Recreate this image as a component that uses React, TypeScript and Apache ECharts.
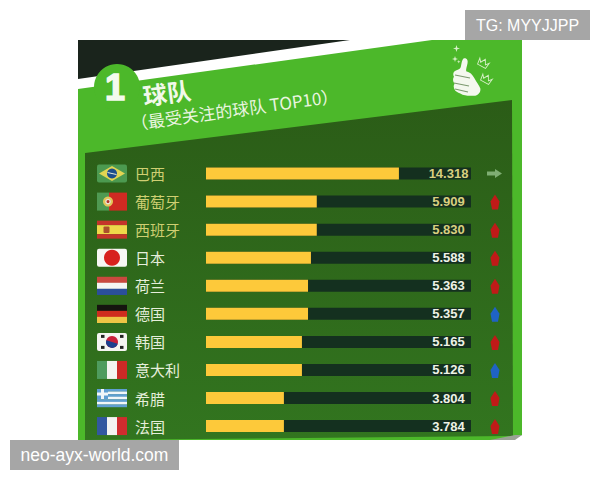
import React, { useEffect, useRef } from "react";
import * as echarts from "echarts";

const teams = ["巴西", "葡萄牙", "西班牙", "日本", "荷兰", "德国", "韩国", "意大利", "希腊", "法国"];
const scores = ["14.318", "5.909", "5.830", "5.588", "5.363", "5.357", "5.165", "5.126", "3.804", "3.784"];
// Drawn length of each yellow bar, as a share of its track (the picture's bars are not proportional to the scores)
const barShares = [72.8, 41.8, 41.8, 39.6, 38.5, 38.5, 36.2, 36.2, 29.4, 29.4];
const trackShares = [100, 100, 100, 100, 100, 100, 100, 100, 100, 100];
const trends = ["flat", "up", "up", "up", "up", "down", "up", "down", "up", "up"];
const flags = ["br", "pt", "es", "jp", "nl", "de", "kr", "it", "gr", "fr"];
const titleText = "球队";
const subtitleText = "（最受关注的球队 TOP10）";
const rankText = "1";
const watermarkTop = "TG: MYYJJPP";
const watermarkBottom = "neo-ayx-world.com";

const CJK = '"Noto Sans CJK SC", sans-serif';
const LATIN = '"Liberation Sans", Arial, sans-serif';
const W = 30;
const H = 18;

const rect = (x: number, y: number, width: number, height: number, fill: string, r = 0) => ({
  type: "rect",
  shape: { x, y, width, height, r },
  style: { fill },
});
const vBands = (c: string[], w: number[]) => {
  let x = 0;
  return w.map((bw, i) => {
    const e = rect(x, 0, bw, H, c[i]);
    x += bw;
    return e;
  });
};
const hBands = (c: string[]) => c.map((col, i) => rect(0, (i * H) / c.length, W, H / c.length + 0.2, col));
const circle = (cx: number, cy: number, r: number, fill: string) => ({
  type: "circle",
  shape: { cx, cy, r },
  style: { fill },
});

function flagParts(id: string): any[] {
  switch (id) {
    case "br":
      return [
        rect(0, 0, W, H, "#4c9a50", 2),
        { type: "polygon", shape: { points: [[2, 9], [15, 1.5], [28, 9], [15, 16.5]] }, style: { fill: "#e2d552" } },
        circle(15, 9, 5, "#1d4f8c"),
        { type: "line", shape: { x1: 10.5, y1: 8, x2: 19.5, y2: 10 }, style: { stroke: "#e6ecd8", lineWidth: 1 } },
      ];
    case "pt":
      return [
        ...vBands(["#4f9a52", "#cf2a22"], [12, 18]),
        circle(11, 9, 5, "#e2c65a"),
        circle(11, 9, 2.8, "#e8e4d8"),
        circle(11, 9, 1.5, "#b8362a"),
      ];
    case "es":
      return [
        rect(0, 0, W, 4.5, "#c4342a"),
        rect(0, 4.5, W, 9, "#eed84a"),
        rect(0, 13.5, W, 4.5, "#c4342a"),
        rect(6.5, 5.8, 6, 6.5, "#a9502c", 1),
      ];
    case "jp":
      return [rect(0, 0, W, H, "#f7f7f4", 2), circle(15, 9, 8, "#d7211e")];
    case "nl":
      return hBands(["#c9493f", "#f5f5f2", "#2b4f9a"]);
    case "de":
      return hBands(["#15150f", "#cf2c1e", "#eec545"]);
    case "kr":
      return [
        rect(0, 0, W, H, "#f5f5f2", 2),
        circle(15, 9, 6, "#c9203a"),
        { type: "sector", shape: { cx: 15, cy: 9, r: 6, startAngle: 0.3, endAngle: 3.44 }, style: { fill: "#1c3f8f" } },
        rect(4, 2, 3.5, 3, "#222"),
        rect(23, 2, 3.5, 3, "#222"),
        rect(4, 13, 3.5, 3, "#222"),
        rect(23, 13, 3.5, 3, "#222"),
      ];
    case "it":
      return vBands(["#4f9c5e", "#f4f4f0", "#cc2a26"], [10, 10, 10]);
    case "gr":
      return [
        ...hBands(["#5f9fd2", "#f2f6f8", "#5f9fd2", "#f2f6f8", "#5f9fd2", "#f2f6f8", "#5f9fd2"]),
        rect(0, 0, 11, 10, "#5f9fd2"),
        rect(4, 0, 3, 10, "#f2f6f8"),
        rect(0, 3.5, 11, 3, "#f2f6f8"),
      ];
    default:
      return vBands(["#32589f", "#f3f3f1", "#cf2c2e"], [10, 10, 10]);
  }
}

const thumbPath =
  "M40 2 C48 -2 56 4 53 14 C51 22 48 28 49 34 C60 36 68 42 74 52 C80 62 88 70 92 78 C94 88 84 98 70 97 C58 97 48 96 38 94 C28 90 22 88 16 84 C10 76 10 70 14 66 C8 60 8 52 12 48 C8 42 10 34 18 32 C26 30 32 28 33 22 C35 14 36 6 40 2 Z";
const crownPath = "M0 3 L3 7 L6 1 L9 7 L12 3 L11 11 L1 11 Z";
const sparklePath = "M5 0 L6.2 3.8 L10 5 L6.2 6.2 L5 10 L3.8 6.2 L0 5 L3.8 3.8 Z";
echarts.graphic.registerShape("thumbShape", echarts.graphic.extendPath(thumbPath as any, {}) as any);
echarts.graphic.registerShape("crownShape", echarts.graphic.extendPath(crownPath as any, {}) as any);
echarts.graphic.registerShape("sparkleShape", echarts.graphic.extendPath(sparklePath as any, {}) as any);

function buildOption(): any {
  const sparkle = (x: number, y: number, s: number) => ({
    type: "sparkleShape", x, y, scaleX: s, scaleY: s, z: -5, style: { fill: "#d8f0c8" },
  });
  const crown = (x: number, y: number, rot: number) => ({
    type: "crownShape", x, y, scaleX: 0.9, scaleY: 0.8, rotation: rot, z: -5,
    style: { fill: "none", stroke: "#d8f0c8", lineWidth: 1 },
  });
  const fingerLine = (x1: number, y1: number, x2: number, y2: number) => ({
    type: "line", z: -4, shape: { x1, y1, x2, y2 }, style: { stroke: "#7d9a70", lineWidth: 1.2 },
  });
  return {
    animation: false,
    backgroundColor: "#ffffff",
    graphic: {
      elements: [
        { type: "polygon", z: -10, shape: { points: [[78, 40], [350, 40], [78, 79]] }, style: { fill: "#1a241c" } },
        {
          type: "polygon", z: -9,
          shape: { points: [[78, 89], [432, 40], [522, 40], [522, 435], [512, 440], [78, 440]] },
          style: { fill: "#4cb82a" },
        },
        { type: "circle", z: -8, shape: { cx: 117, cy: 87, r: 23 }, style: { fill: "#4cb82a" } },
        {
          type: "polygon", z: -7,
          shape: { points: [[85, 153], [512, 100], [513, 436], [85, 440]] },
          style: {
            fill: {
              type: "linear", x: 0, y: 0, x2: 0, y2: 1,
              colorStops: [{ offset: 0, color: "#2b5c17" }, { offset: 1, color: "#32751f" }],
            },
          },
        },
        { type: "polygon", z: -6, shape: { points: [[490, 440], [515, 435], [522, 435], [515, 440]] }, style: { fill: "#9aa295" } },
        {
          type: "text", z: -3, x: 115, y: 87,
          style: {
            text: rankText, fill: "#f4faee", font: `bold 36px ${LATIN}`, align: "center", verticalAlign: "middle",
            stroke: "#f4faee", lineWidth: 1.5,
          },
        },
        {
          type: "text", z: -3, x: 143, y: 95, rotation: 0.13,
          style: { text: titleText, fill: "#f2f8ea", font: `bold 24px ${CJK}`, align: "left", verticalAlign: "middle" },
        },
        {
          type: "text", z: -3, x: 131, y: 123, rotation: 0.135,
          style: { text: subtitleText, fill: "#eaf5e0", font: `17px ${CJK}`, align: "left", verticalAlign: "middle" },
        },
        { type: "thumbShape", x: 450, y: 58, scaleX: 0.33, scaleY: 0.39, z: -5, style: { fill: "#f4f8ee" } },
        fingerLine(455, 75, 470, 78),
        fingerLine(454, 83, 469, 86),
        fingerLine(455, 89, 468, 92),
        sparkle(452, 56, 0.6),
        sparkle(453, 45, 0.7),
        sparkle(457, 60, 0.35),
        crown(481, 56, -0.5),
        crown(484, 72, -0.5),
        { type: "rect", z: 100, shape: { x: 465, y: 10, width: 125, height: 30 }, style: { fill: "#a6a6a6" } },
        {
          type: "text", z: 101, x: 527.5, y: 25,
          style: { text: watermarkTop, fill: "#ffffff", font: `16px ${LATIN}`, align: "center", verticalAlign: "middle" },
        },
        { type: "rect", z: 100, shape: { x: 10, y: 440, width: 169, height: 30 }, style: { fill: "#a6a6a6" } },
        {
          type: "text", z: 101, x: 94.5, y: 455,
          style: { text: watermarkBottom, fill: "#ffffff", font: `17.5px ${LATIN}`, align: "center", verticalAlign: "middle" },
        },
      ],
    },
    grid: { left: 206, top: 159.5, width: 265, height: 280.6, containLabel: false },
    xAxis: { type: "value", min: 0, max: 100, show: false },
    yAxis: {
      type: "category",
      inverse: true,
      data: teams,
      axisLine: { show: false },
      axisTick: { show: false },
      splitLine: { show: false },
      axisLabel: {
        margin: 71,
        align: "left",
        fontSize: 15,
        fontFamily: CJK,
        padding: [0, 0, 2, 0],
        color: (_: string, i: number) => (i < 3 ? "#cfcf72" : "#e6eedb"),
      },
    },
    series: [
      {
        type: "bar",
        data: trackShares.map((v, i) => ({
          value: v,
          label: { color: i < 3 ? "#d8cf7f" : "#eef2e6" },
        })),
        barWidth: 12,
        barGap: "-100%",
        silent: true,
        itemStyle: { color: "#14301f" },
        label: {
          show: true,
          position: [242.5, "50%"],
          align: "center",
          verticalAlign: "middle",
          fontFamily: LATIN,
          fontSize: 13,
          fontWeight: "bold",
          formatter: (p: any) => scores[p.dataIndex],
        },
      },
      {
        type: "bar",
        data: barShares,
        barWidth: 12,
        barGap: "-100%",
        silent: true,
        itemStyle: { color: "#fdc93a" },
      },
      {
        type: "custom",
        clip: false,
        silent: true,
        encode: { x: 0, y: 1 },
        data: flags.map((_, i) => [0, i]),
        z: 3,
        renderItem: (_: any, api: any) => {
          const i = api.value(1);
          const c = api.coord([0, i]);
          return {
            type: "group",
            x: c[0] - 109,
            y: c[1] - H / 2,
            children: flagParts(flags[i]),
          };
        },
      },
      {
        type: "custom",
        clip: false,
        silent: true,
        encode: { x: 0, y: 1 },
        data: trends.map((_, i) => [100, i]),
        z: 3,
        renderItem: (_: any, api: any) => {
          const i = api.value(1);
          const c = api.coord([100, i]);
          const t = trends[i];
          if (t === "flat") {
            return {
              type: "polygon",
              x: c[0] + 23,
              y: c[1],
              shape: { points: [[-7, -2], [1, -2], [1, -4.5], [8, 0], [1, 4.5], [1, 2], [-7, 2]] },
              style: { fill: "#7fae73" },
            };
          }
          const fill = t === "up" ? "#c01a18" : "#1f63c4";
          return {
            type: "group",
            x: c[0] + 24,
            y: c[1] + 1,
            children: [
              { type: "polygon", shape: { points: [[0, -8], [4.5, -1], [3, 7], [-3, 7], [-4.5, -1]] }, style: { fill } },
            ],
          };
        },
      },
    ],
  };
}

export default function App() {
  const ref = useRef<HTMLDivElement>(null);
  useEffect(() => {
    document.body.style.margin = "0";
    const chart = echarts.init(ref.current!, undefined, { renderer: "svg" });
    chart.setOption(buildOption());
    return () => chart.dispose();
  }, []);
  return <div ref={ref} style={{ width: 600, height: 480 }} />;
}
